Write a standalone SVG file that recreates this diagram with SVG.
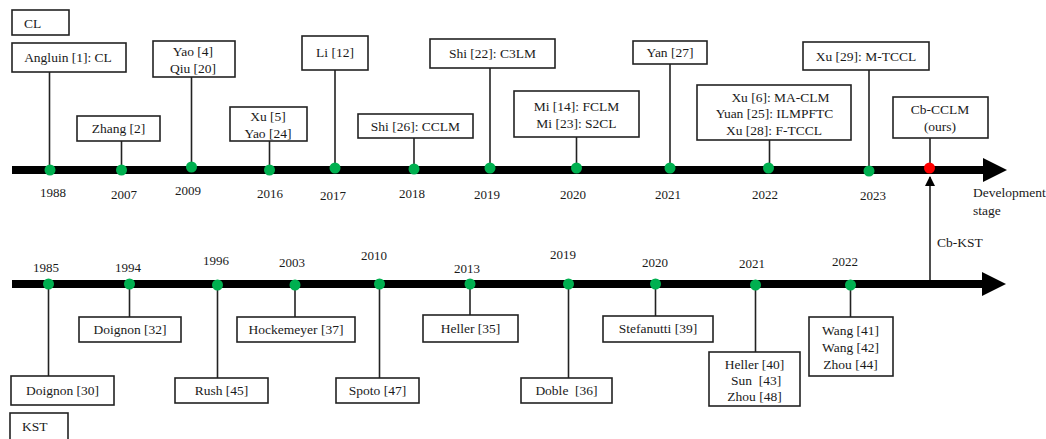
<svg xmlns="http://www.w3.org/2000/svg" width="1046" height="439" viewBox="0 0 1046 439">
  <style>
    text { font-family: "Liberation Serif", "Times New Roman", serif; font-size: 13.5px; fill: #1a1a1a; }
    .c { text-anchor: middle; }
    .yr { font-size: 13px; text-anchor: middle; }
    .box { fill: #ffffff; stroke: #222222; stroke-width: 1.6; }
    .stem { stroke: #222222; stroke-width: 1.6; fill: none; }
    .axis { stroke: #000000; stroke-width: 8; }
    .dot { fill: #00b050; }
    .now { fill: #ff0000; }
  </style>
  <defs>
    <marker id="tip" viewBox="0 0 10 10" refX="9" refY="5" markerWidth="10" markerHeight="10" markerUnits="userSpaceOnUse" orient="auto">
      <path d="M0,0 L10,5 L0,10 Z" fill="#000"/>
    </marker>
  </defs>

  <rect width="1046" height="439" fill="#ffffff"/>

  <!-- connectors: axes, stems and the Cb-KST link -->
  <g id="connectors">
    <line class="axis" x1="12" y1="170" x2="984" y2="170"/>
    <polygon points="983,158 1007,170 983,182" fill="#000"/>
    <line class="axis" x1="12" y1="284" x2="983" y2="284"/>
    <polygon points="982,272 1006,284 982,296" fill="#000"/>

    <!-- upper stems -->
    <line class="stem" x1="49.5" y1="72" x2="49.5" y2="170"/>
    <line class="stem" x1="121.5" y1="141" x2="121.5" y2="170"/>
    <line class="stem" x1="191.5" y1="77" x2="191.5" y2="167"/>
    <line class="stem" x1="269.5" y1="141" x2="269.5" y2="170"/>
    <line class="stem" x1="335" y1="70" x2="335" y2="170"/>
    <line class="stem" x1="414" y1="138" x2="414" y2="170"/>
    <line class="stem" x1="490" y1="68" x2="490" y2="170"/>
    <line class="stem" x1="576.5" y1="137" x2="576.5" y2="170"/>
    <line class="stem" x1="670" y1="64" x2="670" y2="170"/>
    <line class="stem" x1="769.5" y1="140" x2="769.5" y2="170"/>
    <line class="stem" x1="869" y1="70" x2="869" y2="170"/>
    <line class="stem" x1="930" y1="138" x2="930" y2="170"/>

    <!-- lower stems -->
    <line class="stem" x1="48.5" y1="284" x2="48.5" y2="376"/>
    <line class="stem" x1="129.5" y1="284" x2="129.5" y2="317"/>
    <line class="stem" x1="217.5" y1="284" x2="217.5" y2="378"/>
    <line class="stem" x1="295" y1="284" x2="295" y2="317"/>
    <line class="stem" x1="379.5" y1="284" x2="379.5" y2="378"/>
    <line class="stem" x1="470" y1="284" x2="470" y2="315"/>
    <line class="stem" x1="568.5" y1="284" x2="568.5" y2="378"/>
    <line class="stem" x1="655.5" y1="284" x2="655.5" y2="316"/>
    <line class="stem" x1="755.5" y1="284" x2="755.5" y2="352"/>
    <line class="stem" x1="850.5" y1="284" x2="850.5" y2="317"/>

    <!-- Cb-KST link up to the current point -->
    <line class="stem" x1="930" y1="280" x2="930" y2="177" marker-end="url(#tip)"/>
  </g>

  <!-- timeline points -->
  <g id="points">
    <circle class="dot" cx="50" cy="170" r="5.5"/>
    <circle class="dot" cx="121.5" cy="170" r="5.5"/>
    <circle class="dot" cx="191.5" cy="167" r="5.5"/>
    <circle class="dot" cx="269.5" cy="170" r="5.5"/>
    <circle class="dot" cx="335" cy="168" r="5.5"/>
    <circle class="dot" cx="414" cy="169" r="5.5"/>
    <circle class="dot" cx="490" cy="168" r="5.5"/>
    <circle class="dot" cx="576.5" cy="168" r="5.5"/>
    <circle class="dot" cx="670" cy="168" r="5.5"/>
    <circle class="dot" cx="768.5" cy="168" r="5.5"/>
    <circle class="dot" cx="869" cy="171" r="5.5"/>
    <circle class="now" cx="929.5" cy="168" r="5.5"/>

    <circle class="dot" cx="48.5" cy="284" r="5.5"/>
    <circle class="dot" cx="129.5" cy="284" r="5.5"/>
    <circle class="dot" cx="217.5" cy="285" r="5.5"/>
    <circle class="dot" cx="295" cy="285" r="5.5"/>
    <circle class="dot" cx="379.5" cy="284" r="5.5"/>
    <circle class="dot" cx="470" cy="284" r="5.5"/>
    <circle class="dot" cx="568.5" cy="284" r="5.5"/>
    <circle class="dot" cx="655.5" cy="284" r="5.5"/>
    <circle class="dot" cx="755.5" cy="285" r="5.5"/>
    <circle class="dot" cx="850.5" cy="285" r="5.5"/>
  </g>

  <!-- year labels -->
  <g id="years">
    <text class="yr" x="53" y="197">1988</text>
    <text class="yr" x="124" y="199">2007</text>
    <text class="yr" x="188" y="195">2009</text>
    <text class="yr" x="270" y="198">2016</text>
    <text class="yr" x="333" y="200">2017</text>
    <text class="yr" x="412" y="198">2018</text>
    <text class="yr" x="487" y="199">2019</text>
    <text class="yr" x="573" y="199">2020</text>
    <text class="yr" x="668" y="199">2021</text>
    <text class="yr" x="765" y="199">2022</text>
    <text class="yr" x="873" y="200">2023</text>

    <text class="yr" x="46" y="272">1985</text>
    <text class="yr" x="128" y="272">1994</text>
    <text class="yr" x="216" y="265">1996</text>
    <text class="yr" x="292" y="267">2003</text>
    <text class="yr" x="374" y="260">2010</text>
    <text class="yr" x="467" y="273">2013</text>
    <text class="yr" x="563" y="259">2019</text>
    <text class="yr" x="655" y="267">2020</text>
    <text class="yr" x="752" y="268">2021</text>
    <text class="yr" x="845" y="266">2022</text>
  </g>

  <g id="dev-stage">
    <text x="973" y="197">Development</text>
    <text x="973" y="215">stage</text>
  </g>

  <g id="cb-kst">
    <text x="937" y="247">Cb-KST</text>
  </g>

  <!-- upper nodes -->
  <g id="cl-label">
    <rect class="box" x="12" y="10" width="57" height="25"/>
    <text x="24" y="27.5">CL</text>
  </g>
  <g id="angluin">
    <rect class="box" x="12" y="43" width="114" height="29"/>
    <text class="c" x="68" y="62">Angluin [1]: CL</text>
  </g>
  <g id="zhang">
    <rect class="box" x="77" y="116" width="83" height="25"/>
    <text class="c" x="118.5" y="133">Zhang [2]</text>
  </g>
  <g id="yao-qiu">
    <rect class="box" x="153" y="41" width="82" height="36"/>
    <text class="c" x="193" y="56">Yao [4]</text>
    <text class="c" x="193" y="72.5">Qiu [20]</text>
  </g>
  <g id="xu-yao">
    <rect class="box" x="230" y="107" width="77" height="34"/>
    <text class="c" x="268" y="121">Xu [5]</text>
    <text class="c" x="268" y="137.5">Yao [24]</text>
  </g>
  <g id="li">
    <rect class="box" x="302" y="36" width="66" height="34"/>
    <text class="c" x="335" y="57">Li [12]</text>
  </g>
  <g id="shi-cclm">
    <rect class="box" x="358" y="114" width="115" height="24"/>
    <text class="c" x="415.5" y="131">Shi [26]: CCLM</text>
  </g>
  <g id="shi-c3lm">
    <rect class="box" x="430" y="39" width="125" height="29"/>
    <text class="c" x="492.5" y="58">Shi [22]: C3LM</text>
  </g>
  <g id="mi">
    <rect class="box" x="514" y="91" width="125" height="46"/>
    <text class="c" x="576.5" y="111">Mi [14]: FCLM</text>
    <text class="c" x="576.5" y="128">Mi [23]: S2CL</text>
  </g>
  <g id="yan">
    <rect class="box" x="633" y="41" width="74" height="23"/>
    <text class="c" x="670" y="57">Yan [27]</text>
  </g>
  <g id="xu-yuan-xu">
    <rect class="box" x="697" y="85" width="154" height="55"/>
    <text class="c" x="780.5" y="101.5">Xu [6]: MA-CLM</text>
    <text class="c" x="774.5" y="118">Yuan [25]: ILMPFTC</text>
    <text class="c" x="774" y="134.5">Xu [28]: F-TCCL</text>
  </g>
  <g id="xu-mtccl">
    <rect class="box" x="803" y="42" width="126" height="28"/>
    <text class="c" x="866" y="61">Xu [29]: M-TCCL</text>
  </g>
  <g id="cb-cclm">
    <rect class="box" x="893" y="97" width="95" height="41"/>
    <text class="c" x="940" y="113.5">Cb-CCLM</text>
    <text class="c" x="940" y="131">(ours)</text>
  </g>

  <!-- lower nodes -->
  <g id="doignon30">
    <rect class="box" x="11" y="376" width="103" height="29"/>
    <text class="c" x="62.5" y="395">Doignon [30]</text>
  </g>
  <g id="kst-label">
    <rect class="box" x="10" y="413" width="58" height="27"/>
    <text x="22" y="430.5">KST</text>
  </g>
  <g id="doignon32">
    <rect class="box" x="79" y="317" width="102" height="25"/>
    <text class="c" x="130" y="334">Doignon [32]</text>
  </g>
  <g id="rush">
    <rect class="box" x="175" y="378" width="93" height="25"/>
    <text class="c" x="221.5" y="395">Rush [45]</text>
  </g>
  <g id="hockemeyer">
    <rect class="box" x="237" y="317" width="118" height="25"/>
    <text class="c" x="296" y="334">Hockemeyer [37]</text>
  </g>
  <g id="spoto">
    <rect class="box" x="336" y="378" width="83" height="25"/>
    <text class="c" x="377.5" y="395">Spoto [47]</text>
  </g>
  <g id="heller35">
    <rect class="box" x="423" y="315" width="95" height="27"/>
    <text class="c" x="470.5" y="333">Heller [35]</text>
  </g>
  <g id="doble">
    <rect class="box" x="521" y="378" width="91" height="25"/>
    <text class="c" x="566.5" y="395" xml:space="preserve">Doble  [36]</text>
  </g>
  <g id="stefanutti">
    <rect class="box" x="603" y="316" width="110" height="26"/>
    <text class="c" x="658" y="333">Stefanutti [39]</text>
  </g>
  <g id="heller-sun-zhou">
    <rect class="box" x="709" y="352" width="91" height="54"/>
    <text class="c" x="754.5" y="368.5">Heller [40]</text>
    <text class="c" x="756" y="385" xml:space="preserve">Sun  [43]</text>
    <text class="c" x="754.5" y="401">Zhou [48]</text>
  </g>
  <g id="wang-wang-zhou">
    <rect class="box" x="809" y="317" width="84" height="59"/>
    <text class="c" x="850.5" y="334.5">Wang [41]</text>
    <text class="c" x="850.5" y="352">Wang [42]</text>
    <text class="c" x="850.5" y="368.5">Zhou [44]</text>
  </g>
</svg>
